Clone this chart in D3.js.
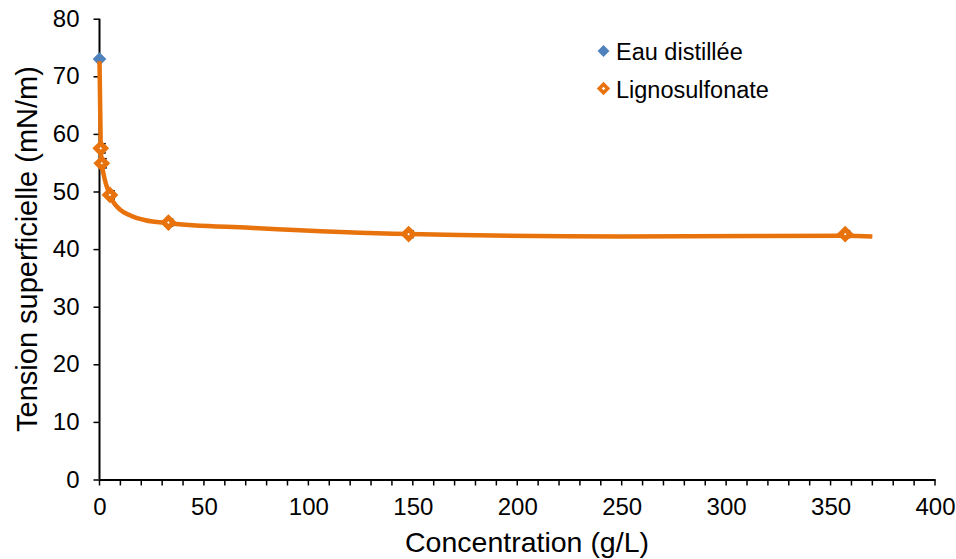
<!DOCTYPE html>
<html><head><meta charset="utf-8">
<script src="https://cdn.jsdelivr.net/npm/d3@7"></script>
<style>body{margin:0;background:#fff}svg{display:block}text{font-family:"Liberation Sans",Arial,sans-serif}</style>
</head><body>
<script>
// Data
const waterX = [0];
const waterY = [73];
const ligX = [0.6, 1.1, 5, 33, 148, 357];
const ligY = [57.5, 54.9, 49.4, 44.6, 42.6, 42.6];
const ligErr = [0.8, 0.8, 0.7, 0.6, 0.6, 0.6];
const trendX = [0, 0.6, 1.1, 5, 10, 15, 22, 33, 72, 148, 250, 357, 370];
const trendY = [72.6, 57.5, 54.9, 49.4, 46.8, 45.8, 45.0, 44.5, 43.7, 42.6, 42.2, 42.3, 42.2];
const xTicks = [0, 50, 100, 150, 200, 250, 300, 350, 400];
const yTicks = [0, 10, 20, 30, 40, 50, 60, 70, 80];
const legendLabels = ["Eau distillée", "Lignosulfonate"];

const W = 956, H = 559;
const blue = "#4F81BD", orange = "#E8720C";
const svg = d3.select("body").append("svg").attr("width", W).attr("height", H);
const x = d3.scaleLinear().domain([0, 400]).range([99.5, 935]);
const y = d3.scaleLinear().domain([0, 80]).range([479.5, 18.7]);

// axes
const xAxis = d3.axisBottom(x).tickValues(xTicks).tickSize(0).tickPadding(0);
const gx = svg.append("g").attr("transform", `translate(0,${y(0)})`).call(xAxis);
gx.select(".domain").attr("stroke", "#000").attr("stroke-width", 2);
gx.selectAll("text").attr("font-size", 24).attr("fill", "#000").attr("y", 35.5).attr("dy", null);
// minor ticks every 10
svg.append("g").selectAll("line").data(d3.range(0, 401, 10)).join("line")
  .attr("x1", d => x(d)).attr("x2", d => x(d))
  .attr("y1", y(0)).attr("y2", y(0) + 6).attr("stroke", "#000").attr("stroke-width", 1.5);

const yAxis = d3.axisLeft(y).tickValues(yTicks).tickSize(6).tickPadding(14);
const gy = svg.append("g").attr("transform", `translate(${x(0)},0)`).call(yAxis);
gy.select(".domain").attr("stroke", "#000").attr("stroke-width", 2).attr("d", `M0,${y(80)}V${y(0)}`);
gy.selectAll(".tick line").attr("stroke", "#000").attr("stroke-width", 1.5);
gy.selectAll("text").attr("font-size", 24).attr("fill", "#000");

// titles
svg.append("text").attr("x", 527).attr("y", 552).attr("text-anchor", "middle")
  .attr("font-size", 28.5).text("Concentration (g/L)");
svg.append("text").attr("transform", "translate(37,249) rotate(-90)").attr("text-anchor", "middle")
  .attr("font-size", 29).text("Tension superficielle (mN/m)");

// error bars
const eb = svg.append("g").attr("stroke", "#000").attr("stroke-width", 1.5);
ligX.forEach((d, i) => {
  const cx = x(d) + 2, y1 = y(ligY[i] - ligErr[i]), y2 = y(ligY[i] + ligErr[i]);
  eb.append("line").attr("x1", cx).attr("x2", cx).attr("y1", y1).attr("y2", y2);
  eb.append("line").attr("x1", cx - 3).attr("x2", cx + 3).attr("y1", y1).attr("y2", y1);
  eb.append("line").attr("x1", cx - 3).attr("x2", cx + 3).attr("y1", y2).attr("y2", y2);
});

// blue point
const diamond = d3.symbol().type(d3.symbolDiamond2);
svg.append("g").selectAll("path").data(waterX).join("path")
  .attr("d", diamond.size(120)())
  .attr("transform", (d, i) => `translate(${x(d)},${y(waterY[i])})`)
  .attr("fill", blue);

// trend line
const line = d3.line().x((d, i) => x(d)).y((d, i) => y(trendY[i])).curve(d3.curveMonotoneX);
svg.append("path").datum(trendX).attr("d", line).attr("fill", "none")
  .attr("stroke", orange).attr("stroke-width", 4.5).attr("stroke-linejoin", "round");

// lignosulfonate markers
svg.append("g").selectAll("path").data(ligX).join("path")
  .attr("d", diamond.size(60)())
  .attr("transform", (d, i) => `translate(${x(d)},${y(ligY[i])})`)
  .attr("fill", "#fff").attr("stroke", orange).attr("stroke-width", 5);

// legend
const lg = svg.append("g");
lg.append("path").attr("d", diamond.size(90)()).attr("transform", "translate(603.5,51)").attr("fill", blue);
lg.append("path").attr("d", diamond.size(45)()).attr("transform", "translate(603.5,88.5)")
  .attr("fill", "#fff").attr("stroke", orange).attr("stroke-width", 3.5);
lg.selectAll("text").data(legendLabels).join("text")
  .attr("x", 616).attr("y", (d, i) => 60 + i * 38).attr("font-size", 23.5).text(d => d);
</script>
</body></html>
